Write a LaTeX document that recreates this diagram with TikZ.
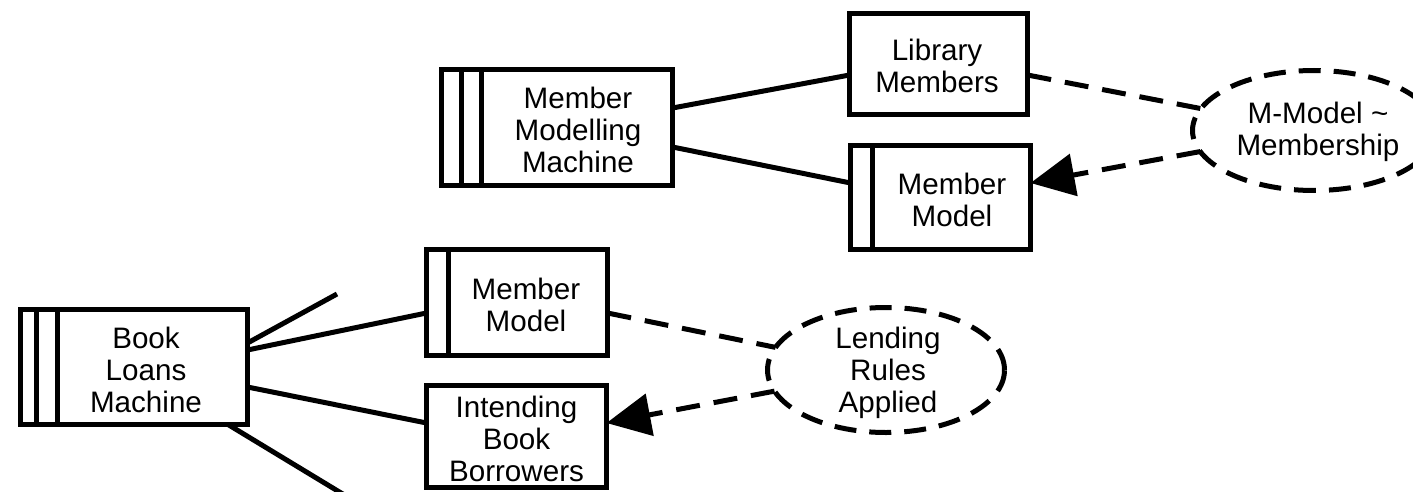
\documentclass[tikz,border=0pt]{standalone}
\usepackage{fontspec}
\setmainfont{Liberation Sans}
\usetikzlibrary{shapes.geometric,arrows.meta}
\begin{document}
\begin{tikzpicture}[x=0.5pt,y=-0.5pt,
  every node/.style={font=\fontsize{14.8pt}{16pt}\selectfont},
  box/.style={draw, line width=2.5pt, rectangle, inner sep=0pt, outer sep=0pt},
  txt/.style={align=center, inner sep=0pt, outer sep=0pt},
  cloud/.style={draw, ellipse, line width=2.5pt, inner sep=0pt, outer sep=0pt, dash pattern=on 11pt off 6.5pt},
  link/.style={line width=2.5pt},
  dlink/.style={line width=2.5pt, dash pattern=on 12pt off 7pt},
  arr/.style={-{Triangle[length=22pt,width=21pt]}},
  bar/.style={line width=2.5pt}
]
\useasboundingbox (0,0) rectangle (1413,492);
\clip (0,0) rectangle (1413,492);

% upper group
\node[box, minimum width=115.5pt, minimum height=58pt] (mmm) at (557,127.5) {};
\draw[bar] ([xshift=9.75pt]mmm.north west) -- ([xshift=9.75pt]mmm.south west);
\draw[bar] ([xshift=19.75pt]mmm.north west) -- ([xshift=19.75pt]mmm.south west);
\node[txt] (mmmt) at (578,130) {Member\\Modelling\\Machine};

\node[box, minimum width=89pt, minimum height=50.5pt] (lib) at (938.5,64) {};
\node[txt] (libt) at (937,66) {Library\\Members};

\node[box, minimum width=90pt, minimum height=52pt] (mm1) at (940.5,197.5) {};
\draw[bar] ([xshift=10.75pt]mm1.north west) -- ([xshift=10.75pt]mm1.south west);
\node[txt] (mm1t) at (952,200) {Member\\Model};

\node[cloud, minimum width=121.5pt, minimum height=60pt] (ell1) at (1314,130.5) {};
\node[txt] (ell1t) at (1318,132) {M-Model \textasciitilde\\Membership};

\draw[link] ([yshift=9.75pt]mmm.east) -- ([yshift=-5.5pt]lib.west);
\draw[link] ([yshift=-9.75pt]mmm.east) -- ([yshift=7.25pt]mm1.west);
\draw[dlink] ([yshift=-5.5pt]lib.east) -- (ell1);
\draw[dlink, arr] (ell1) -- ([yshift=7.25pt]mm1.east);

% lower group
\node[box, minimum width=113.5pt, minimum height=57.5pt] (blm) at (134,367) {};
\draw[bar] ([xshift=7.75pt]blm.north west) -- ([xshift=7.75pt]blm.south west);
\draw[bar] ([xshift=18.25pt]blm.north west) -- ([xshift=18.25pt]blm.south west);
\node[txt] (blmt) at (146,370) {Book\\Loans\\Machine};

\node[box, minimum width=90.5pt, minimum height=53pt] (mm2) at (517,302.5) {};
\draw[bar] ([xshift=10.75pt]mm2.north west) -- ([xshift=10.75pt]mm2.south west);
\node[txt] (mm2t) at (526,305) {Member\\Model};

\node[box, minimum width=90pt, minimum height=51pt] (ibb) at (516.5,436.5) {};
\node[txt] (ibbt) at (516.5,439) {Intending\\Book\\Borrowers};

\node[cloud, minimum width=118.5pt, minimum height=62.5pt] (ell2) at (886,370) {};
\node[txt] (ell2t) at (888,373) {Lending\\Rules\\Applied};

\coordinate (su) at (337,294);
\coordinate (sd) at (351,499);

\draw[link] ([yshift=12pt]blm.east) -- (su);
\draw[link] ([yshift=8.5pt]blm.east) -- ([yshift=-5.25pt]mm2.west);
\draw[link] ([yshift=-10pt]blm.east) -- ([yshift=6.75pt]ibb.west);
\draw[link] ([xshift=47pt]blm.south) -- (sd);
\draw[dlink] ([yshift=-5.25pt]mm2.east) -- (ell2);
\draw[dlink, arr] (ell2) -- ([yshift=6.75pt]ibb.east);
\end{tikzpicture}
\end{document}
